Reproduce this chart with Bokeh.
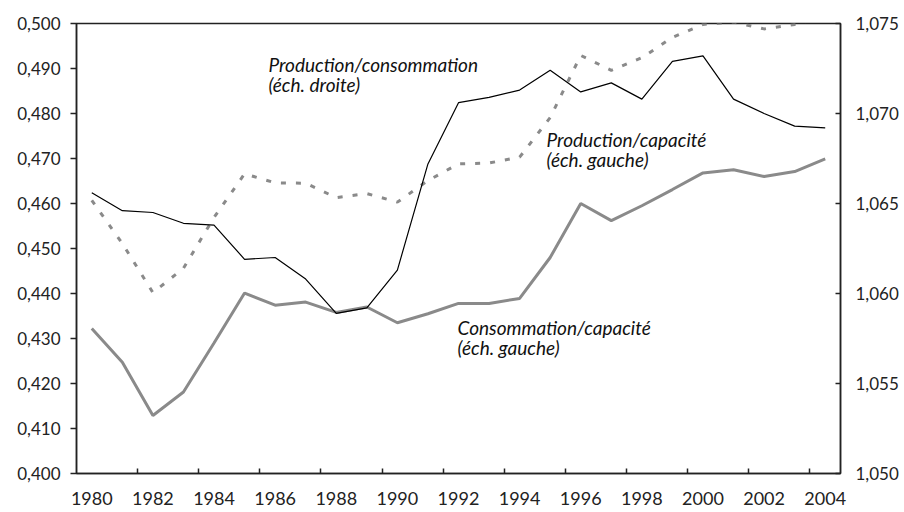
from bokeh.plotting import figure
from bokeh.models import Range1d, LinearAxis, FixedTicker, Label, ColumnDataSource
from bokeh.embed import file_html
from bokeh.resources import INLINE

years = list(range(1980, 2005))
cons_cap = [0.4322, 0.4247, 0.4129, 0.4181, 0.4290, 0.4401, 0.4374, 0.4381, 0.4358, 0.4370,
            0.4335, 0.4355, 0.4378, 0.4378, 0.4389, 0.4480, 0.4600, 0.4562, 0.4595, 0.4631,
            0.4668, 0.4675, 0.4660, 0.4671, 0.4699]
prod_cap = [0.4607, 0.4511, 0.4402, 0.4456, 0.4569, 0.4666, 0.4646, 0.4645, 0.4613, 0.4622,
            0.4603, 0.4651, 0.4688, 0.4690, 0.4703, 0.4791, 0.4929, 0.4896, 0.4924, 0.4969,
            0.4998, 0.5003, 0.4988, 0.4998, 0.5015]
prod_cons = [1.0656, 1.0646, 1.0645, 1.0639, 1.0638, 1.0619, 1.0620, 1.0608, 1.0589, 1.0592,
             1.0613, 1.0672, 1.0706, 1.0709, 1.0713, 1.0724, 1.0712, 1.0717, 1.0708, 1.0729,
             1.0732, 1.0708, 1.0700, 1.0693, 1.0692]

x_labels = [1980, 1982, 1984, 1986, 1988, 1990, 1992, 1994, 1996, 1998, 2000, 2002, 2004]
x_tick_marks = [1981.5, 1983.5, 1985.5, 1987.5, 1989.5, 1991.5, 1993.5, 1995.5, 1997.5,
                1999.5, 2001.5, 2003.5]
left_ticks = [0.400, 0.410, 0.420, 0.430, 0.440, 0.450, 0.460, 0.470, 0.480, 0.490, 0.500]
left_labels = ["0,400", "0,410", "0,420", "0,430", "0,440", "0,450", "0,460", "0,470",
               "0,480", "0,490", "0,500"]
right_ticks = [1.050, 1.055, 1.060, 1.065, 1.070, 1.075]
right_labels = ["1,050", "1,055", "1,060", "1,065", "1,070", "1,075"]

FONT = "Lato"
AX = "#222222"
GRAY = "#8a8a8a"

p = figure(width=904, height=512, output_backend="svg", toolbar_location=None,
           x_range=Range1d(1979.5, 2004.5), y_range=Range1d(0.400, 0.500),
           min_border_left=76, min_border_right=64, min_border_top=23, min_border_bottom=39)
p.extra_y_ranges = {"right": Range1d(1.050, 1.075)}
p.grid.visible = False
p.outline_line_color = AX
p.outline_line_width = 1.5
p.background_fill_color = "white"
p.border_fill_color = "white"

# x axis
xa = p.xaxis[0]
xa.ticker = FixedTicker(ticks=x_labels, minor_ticks=x_tick_marks)
xa.major_tick_in = 0
xa.major_tick_out = 0
xa.minor_tick_in = 5
xa.minor_tick_out = 0
xa.minor_tick_line_color = AX
xa.minor_tick_line_width = 1.5
xa.axis_line_color = AX
xa.axis_line_width = 1.5
xa.major_label_text_font = FONT
xa.major_label_text_font_size = "18px"
xa.major_label_text_color = "#222222"
xa.major_label_standoff = 18

# left axis
ya = p.yaxis[0]
ya.ticker = FixedTicker(ticks=left_ticks)
ya.major_label_overrides = {t: l for t, l in zip(left_ticks, left_labels)}
ya.major_tick_in = 0
ya.major_tick_out = 6
ya.minor_tick_line_color = None
ya.axis_line_color = AX
ya.axis_line_width = 1.5
ya.major_tick_line_color = AX
ya.major_tick_line_width = 1.5
ya.major_label_text_font = FONT
ya.major_label_text_font_size = "17px"
ya.major_label_text_color = "#222222"
ya.major_label_standoff = 10

# right axis
ra = LinearAxis(y_range_name="right", ticker=FixedTicker(ticks=right_ticks))
ra.major_label_overrides = {t: l for t, l in zip(right_ticks, right_labels)}
ra.major_tick_in = 5
ra.major_tick_out = 0
ra.minor_tick_line_color = None
ra.axis_line_color = AX
ra.axis_line_width = 1.5
ra.major_tick_line_color = AX
ra.major_tick_line_width = 1.5
ra.major_label_text_font = FONT
ra.major_label_text_font_size = "17px"
ra.major_label_text_color = "#222222"
ra.major_label_standoff = 15
p.add_layout(ra, "right")

src = ColumnDataSource(dict(year=years, cons_cap=cons_cap, prod_cap=prod_cap, prod_cons=prod_cons))
p.line("year", "cons_cap", source=src, line_color=GRAY, line_width=3)
p.line("year", "prod_cap", source=src, line_color=GRAY, line_width=3, line_dash="5 10")
p.line("year", "prod_cons", source=src, line_color="black", line_width=1.2, y_range_name="right")

def lab(x, y, t):
    p.add_layout(Label(x=x, y=y, text=t, text_font=FONT, text_font_style="italic",
                       text_font_size="19px", text_color="#111111",
                       text_align="left", text_baseline="alphabetic"))

lab(1985.78, 0.4909, "Production/consommation")
lab(1985.78, 0.4864, "(éch. droite)")
lab(1994.88, 0.4742, "Production/capacité")
lab(1994.88, 0.4697, "(éch. gauche)")
lab(1991.97, 0.4325, "Consommation/capacité")
lab(1991.97, 0.4279, "(éch. gauche)")

open("out.html", "w").write(file_html(p, INLINE))
